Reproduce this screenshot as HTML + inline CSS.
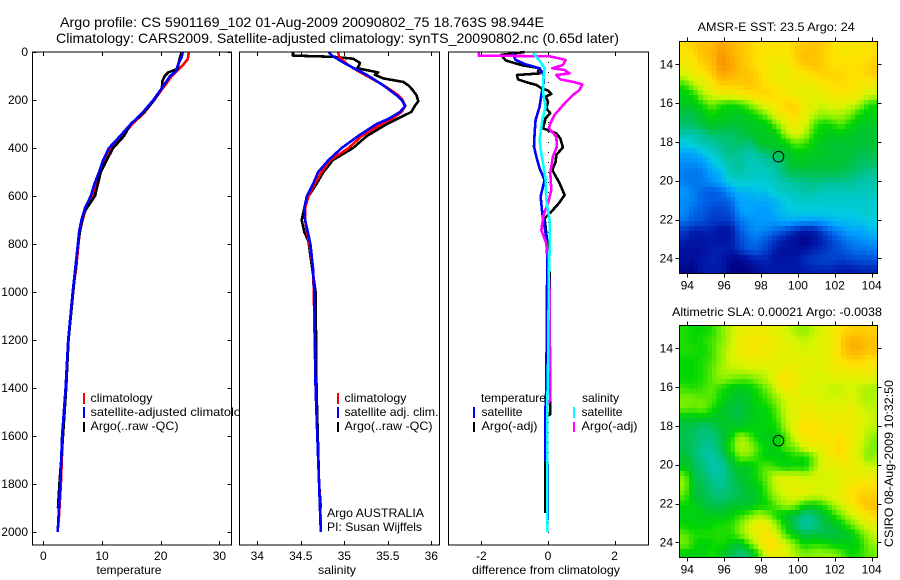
<!DOCTYPE html>
<html lang="en">
<head>
<meta charset="utf-8">
<title>Argo profile</title>
<style>
html,body{margin:0;padding:0;background:#fff;}
svg{display:block;}
text{font-family:"Liberation Sans",sans-serif;font-size:12px;fill:#000;}
.frame{fill:none;stroke:#000;stroke-width:1;shape-rendering:crispEdges;}
.mark{shape-rendering:crispEdges;}
</style>
</head>
<body>
<svg id="chart" xmlns="http://www.w3.org/2000/svg" width="900" height="580" viewBox="0 0 900 580">
<defs>
<clipPath id="clip-map-sst"><rect x="680" y="42" width="197" height="231"/></clipPath>
<clipPath id="clip-map-sla"><rect x="680" y="326" width="197" height="231"/></clipPath>
<clipPath id="clip-legend-temp"><rect x="32" y="52" width="207.5" height="493"/></clipPath>
</defs>
<text x="60" y="27" textLength="484" lengthAdjust="spacingAndGlyphs" style="font-size:14px">Argo profile: CS 5901169_102 01-Aug-2009 20090802_75 18.763S 98.944E</text>
<text x="56" y="43" textLength="563" lengthAdjust="spacingAndGlyphs" style="font-size:14px">Climatology: CARS2009. Satellite-adjusted climatology: synTS_20090802.nc (0.65d later)</text>

<g id="panel-temp"></g>
<g id="panel-sal"></g>
<g id="panel-diff"></g>
<g id="map-sst"></g>
<g id="map-sla"></g>

<text x="129" y="574" text-anchor="middle" textLength="65" lengthAdjust="spacingAndGlyphs">temperature</text>
<text x="337" y="574" text-anchor="middle" textLength="38" lengthAdjust="spacingAndGlyphs">salinity</text>
<text x="546" y="574" text-anchor="middle" textLength="148" lengthAdjust="spacingAndGlyphs">difference from climatology</text>

<g clip-path="url(#clip-legend-temp)">
<rect class="mark" x="83" y="393" width="2" height="11" fill="#f00"/>
<rect class="mark" x="83" y="407" width="2" height="11" fill="#00f"/>
<rect class="mark" x="83" y="422" width="2" height="10" fill="#000"/>
<text x="90.5" y="402" textLength="62" lengthAdjust="spacingAndGlyphs">climatology</text>
<text x="90.5" y="416" textLength="164" lengthAdjust="spacingAndGlyphs">satellite-adjusted climatology</text>
<text x="90.5" y="430" textLength="88" lengthAdjust="spacingAndGlyphs">Argo(..raw -QC)</text>
</g>
<rect class="mark" x="239" y="52" width="1" height="493" fill="#000"/>

<g>
<rect class="mark" x="337" y="393" width="2" height="11" fill="#f00"/>
<rect class="mark" x="337" y="407" width="2" height="11" fill="#00f"/>
<rect class="mark" x="337" y="422" width="2" height="10" fill="#000"/>
<text x="344.5" y="402" textLength="62" lengthAdjust="spacingAndGlyphs">climatology</text>
<text x="344.5" y="416" textLength="94" lengthAdjust="spacingAndGlyphs">satellite adj. clim.</text>
<text x="344.5" y="430" textLength="88" lengthAdjust="spacingAndGlyphs">Argo(..raw -QC)</text>
<text x="327" y="517" textLength="97" lengthAdjust="spacingAndGlyphs">Argo AUSTRALIA</text>
<text x="327" y="531" textLength="95" lengthAdjust="spacingAndGlyphs">PI: Susan Wijffels</text>
</g>

<g>
<text x="481" y="402" textLength="65" lengthAdjust="spacingAndGlyphs">temperature</text>
<rect class="mark" x="473" y="407" width="2" height="11" fill="#00f"/>
<rect class="mark" x="473" y="422" width="2" height="10" fill="#000"/>
<text x="481.5" y="416" textLength="41" lengthAdjust="spacingAndGlyphs">satellite</text>
<text x="481.5" y="430" textLength="56" lengthAdjust="spacingAndGlyphs">Argo(-adj)</text>
<text x="582" y="402" textLength="37" lengthAdjust="spacingAndGlyphs">salinity</text>
<rect class="mark" x="573" y="407" width="2" height="11" fill="#0ff"/>
<rect class="mark" x="573" y="422" width="2" height="10" fill="#f0f"/>
<text x="581.5" y="416" textLength="41" lengthAdjust="spacingAndGlyphs">satellite</text>
<text x="581.5" y="430" textLength="56" lengthAdjust="spacingAndGlyphs">Argo(-adj)</text>
</g>

<text x="697.7" y="31" textLength="157" lengthAdjust="spacingAndGlyphs">AMSR-E SST: 23.5 Argo: 24</text>
<text x="672" y="316" textLength="210" lengthAdjust="spacingAndGlyphs">Altimetric SLA: 0.00021 Argo: -0.0038</text>
<text transform="translate(893,547) rotate(-90)" textLength="167" lengthAdjust="spacingAndGlyphs">CSIRO 08-Aug-2009 10:32:50</text>
</svg>

<script>
// ---- shared tick values ----
const depthTicks = [0, 200, 400, 600, 800, 1000, 1200, 1400, 1600, 1800, 2000];
const tempTicks = [0, 10, 20, 30];
const salTicks = [34, 34.5, 35, 35.5, 36];
const diffTicks = [-2, 0, 2];
const lonTicks = [94, 96, 98, 100, 102, 104];
const latTicks = [14, 16, 18, 20, 22, 24];

// ---- temperature profiles ----
const tempClimDepth = [0, 30, 60, 80, 100, 150, 200, 250, 300, 350, 400, 450, 500, 550, 600, 650, 700, 750, 800, 900, 1000, 1200, 1400, 1600, 1800, 1960];
const tempClim = [24.8, 24.6, 23.6, 22.7, 21.9, 20.4, 18.9, 17.3, 15.2, 13.3, 11.6, 10.7, 9.8, 9.1, 8.5, 7.3, 6.7, 6.2, 6.0, 5.6, 5.0, 4.3, 3.8, 3.3, 3.0, 2.6];
const tempArgoDepth = [0, 20, 40, 70, 85, 100, 120, 150, 200, 250, 300, 350, 400, 450, 500, 550, 600, 640, 670, 700, 800, 900, 1000, 1200, 1400, 1600, 1800, 1900];
const tempArgo = [23.6, 23.3, 23.1, 22.9, 21.3, 20.7, 20.3, 20.2, 18.9, 17.2, 14.9, 13.75, 11.9, 10.8, 9.8, 9.3, 8.8, 7.7, 6.9, 6.6, 5.9, 5.5, 5.1, 4.3, 3.9, 3.35, 2.75, 2.5];
const tempSatDepth = [0, 20, 50, 80, 100, 150, 200, 250, 300, 350, 400, 450, 500, 550, 600, 650, 700, 750, 800, 900, 1000, 1200, 1400, 1600, 1800, 2000];
const tempSat = [23.75, 23.6, 23.0, 22.6, 21.6, 20.2, 18.75, 17.0, 14.9, 13.1, 11.2, 10.2, 9.5, 8.7, 8.1, 7.1, 6.5, 6.1, 5.9, 5.45, 5.0, 4.25, 3.8, 3.2, 2.9, 2.45];

// ---- salinity profiles ----
const salClimDepth = [0, 20, 50, 80, 100, 130, 150, 180, 200, 225, 250, 280, 300, 350, 400, 450, 500, 550, 600, 650, 700, 750, 800, 900, 1000, 1400, 1600, 1800, 1960];
const salClim = [34.93, 34.94, 35.03, 35.16, 35.26, 35.41, 35.5, 35.62, 35.67, 35.7, 35.66, 35.54, 35.43, 35.2, 35.05, 34.84, 34.74, 34.66, 34.59, 34.55, 34.55, 34.57, 34.6, 34.64, 34.65, 34.67, 34.69, 34.71, 34.73];
const salArgoDepth = [0, 15, 20, 28, 45, 55, 68, 75, 85, 95, 110, 125, 140, 160, 180, 205, 225, 250, 280, 300, 350, 400, 450, 500, 550, 600, 650, 700, 750, 790, 850, 1000, 1400, 1800, 1900];
const salArgo = [34.41, 34.41, 34.87, 35.1, 35.18, 35.17, 35.15, 35.25, 35.39, 35.35, 35.45, 35.68, 35.74, 35.79, 35.83, 35.85, 35.81, 35.77, 35.6, 35.49, 35.26, 35.1, 34.87, 34.76, 34.68, 34.59, 34.54, 34.51, 34.54, 34.59, 34.61, 34.67, 34.68, 34.71, 34.73];
const salSatDepth = [0, 15, 40, 60, 80, 100, 130, 150, 180, 200, 225, 250, 280, 300, 350, 400, 450, 500, 550, 600, 650, 700, 750, 800, 900, 1000, 1400, 1600, 1800, 2000];
const salSat = [34.82, 34.86, 34.97, 35.07, 35.18, 35.28, 35.41, 35.49, 35.6, 35.66, 35.7, 35.64, 35.5, 35.37, 35.16, 34.97, 34.82, 34.7, 34.64, 34.57, 34.54, 34.55, 34.58, 34.61, 34.64, 34.655, 34.67, 34.69, 34.71, 34.73];

// ---- differences from climatology ----
const dTempArgoDepth = [0, 12, 36, 54, 68, 82, 89, 96, 114, 128, 137, 151, 161, 175, 186, 207, 235, 255, 276, 318, 339, 360, 397, 429, 457, 492, 547, 596, 630, 669, 693, 783, 922, 1350, 1510, 1520, 1920];
const dTempArgo = [-0.7, -1.41, -1.26, -0.8, -0.25, -0.3, -0.25, -0.93, -0.9, -0.6, -0.35, -0.2, 0, 0.1, -0.07, 0, -0.05, 0.07, -0.07, -0.15, 0.25, 0.37, 0.45, 0.25, 0.23, 0.13, 0.35, 0.5, 0.33, 0.08, -0.1, -0.03, 0.05, 0.06, 0.07, -0.08, -0.08];
const dTempSatDepth = [5, 33, 50, 68, 96, 130, 179, 228, 283, 339, 394, 436, 485, 533, 603, 672, 755, 853, 1000, 1400, 1500, 1700, 1720, 1950];
const dTempSat = [-1.07, -0.97, -0.7, -0.25, -0.13, -0.13, -0.2, -0.25, -0.37, -0.4, -0.42, -0.35, -0.25, -0.1, -0.22, -0.17, -0.07, -0.02, -0.03, -0.05, -0.08, -0.08, -0.01, -0.01];
const dSalSatDepth = [5, 33, 68, 103, 144, 186, 228, 283, 367, 422, 478, 533, 617, 700, 783, 922, 1325, 1462, 2000];
const dSalSat = [-0.45, -0.27, -0.1, -0.13, -0.15, -0.13, -0.07, -0.17, -0.25, -0.2, -0.13, -0.07, -0.05, 0.05, 0.06, 0.03, 0, -0.02, -0.02];
const dSalArgoDepth = [0, 15, 18, 33, 54, 68, 75, 89, 96, 114, 124, 135, 158, 179, 214, 262, 297, 318, 353, 394, 436, 505, 575, 630, 679, 742, 797, 853, 1000, 1450, 1470, 1900];
const dSalArgo = [-2.08, -2.08, 0.05, 0.53, 0.45, 0.13, 0.5, 0.65, 0.25, 0.37, 0.75, 1.03, 0.95, 0.75, 0.5, 0.2, 0.07, 0.03, 0.25, 0.27, 0.15, 0.07, 0.1, 0, -0.13, -0.2, -0.05, 0, 0.05, 0.07, -0.02, -0.02];

// ---- zero reference line samples ----
const zeroValue = [0];

// ---- map grids (colour-index 0..100), rows north to south, 0.5 degree cells ----
const sstGrid = [
[88,90,92,93,96,94,92,90,88,88,88,86,90,91,92,91,88,87,86,87,88,88],
[86,88,92,93,98,95,92,90,88,86,86,86,90,93,92,90,88,86,86,87,88,89],
[84,86,90,92,98,96,93,90,88,86,84,85,88,90,92,91,88,88,88,88,90,90],
[80,84,86,90,95,94,92,92,90,86,84,83,86,86,88,90,90,90,88,88,90,90],
[66,76,82,86,90,90,90,92,90,88,86,84,84,84,84,86,88,88,88,86,84,84],
[62,64,76,80,84,84,86,88,88,90,88,86,84,82,82,84,86,86,86,84,80,78],
[60,60,66,72,66,64,66,72,80,84,86,90,90,84,82,80,82,82,80,76,66,64],
[56,56,60,64,62,60,60,62,66,74,84,86,90,84,78,74,76,76,72,64,62,62],
[54,54,58,60,60,58,58,60,60,62,72,82,84,82,70,64,66,70,64,60,60,60],
[48,48,50,54,54,54,56,58,60,60,62,76,82,78,66,62,60,62,60,58,58,58],
[42,44,48,48,52,52,54,52,58,60,60,62,70,68,62,60,58,58,58,58,58,58],
[36,36,40,44,48,52,50,48,50,54,56,58,62,62,60,60,58,58,58,56,56,56],
[32,32,34,40,44,48,50,46,46,48,50,56,60,60,58,58,58,58,56,54,54,54],
[30,28,30,36,38,48,48,46,46,46,48,54,56,56,56,56,56,56,54,52,50,50],
[30,28,30,32,36,42,44,44,42,44,46,48,50,50,52,50,50,50,50,48,48,48],
[34,30,26,24,26,34,38,38,40,40,44,46,46,48,48,46,46,46,46,46,46,46],
[32,30,26,24,24,26,36,36,36,36,38,42,44,44,44,44,44,44,44,44,44,44],
[32,26,24,20,20,22,34,36,34,34,38,40,42,42,42,42,42,42,42,44,44,44],
[28,24,22,18,18,18,28,32,34,34,34,38,36,36,34,36,38,40,40,40,42,42],
[18,12,14,14,8,10,24,30,32,30,26,22,16,10,12,20,28,32,36,36,38,40],
[14,10,10,12,10,12,20,26,28,22,16,10,8,2,8,14,20,26,30,32,34,34],
[8,8,8,12,14,12,18,24,24,18,12,8,8,10,14,16,20,22,26,28,28,30],
[8,6,12,14,12,4,4,10,14,14,10,10,10,16,18,20,20,18,20,22,22,24],
[4,2,12,12,12,2,0,2,8,12,12,12,12,12,14,14,14,12,12,14,14,14]
];
const slaGrid = [
[66,64,64,66,72,78,82,84,84,84,82,80,76,74,78,82,84,88,90,90,90,90],
[66,64,66,68,72,78,84,86,86,86,84,82,80,78,80,82,84,90,94,94,92,92],
[66,66,64,68,74,80,84,86,86,84,84,82,82,80,80,82,84,90,94,94,92,92],
[64,64,66,68,74,80,82,84,84,84,82,82,82,82,82,82,84,88,90,90,88,88],
[64,64,66,70,76,78,78,80,80,80,82,84,84,82,82,82,84,84,86,86,86,84],
[64,64,66,70,74,72,70,70,74,78,84,88,84,82,80,80,82,82,82,82,82,80],
[68,66,68,70,66,62,60,62,66,72,80,86,84,80,80,80,78,78,80,78,76,76],
[72,72,70,70,64,60,58,60,64,68,74,80,82,82,82,80,80,80,82,78,76,78],
[72,70,72,66,60,58,56,60,62,64,70,80,82,84,84,82,82,82,84,80,78,78],
[60,60,62,60,60,58,56,60,62,62,68,78,82,86,86,84,84,84,84,82,80,78],
[56,56,52,54,58,60,60,62,62,64,64,76,84,88,88,86,84,86,84,82,78,78],
[56,54,52,52,56,62,76,70,62,60,62,68,82,86,86,88,86,88,84,82,76,72],
[56,54,50,50,56,66,78,76,68,62,62,70,72,82,84,84,88,90,84,80,74,70],
[58,54,50,48,52,60,72,72,66,62,62,62,66,64,72,82,84,88,84,80,72,76],
[60,56,52,48,48,56,60,60,66,70,66,62,64,62,72,82,82,84,84,82,80,78],
[72,56,54,50,48,54,58,60,66,72,80,80,80,78,80,80,80,82,84,84,84,84],
[74,58,56,52,50,54,56,60,62,70,80,82,82,82,80,80,80,82,86,88,88,88],
[70,58,56,54,52,54,56,58,60,68,76,80,82,82,80,80,82,84,88,90,90,90],
[64,62,58,56,56,58,58,58,62,64,70,76,74,64,62,66,74,80,84,90,92,92],
[62,62,62,60,60,62,66,70,76,72,64,60,56,52,52,58,64,72,80,84,88,90],
[64,62,62,64,66,66,72,80,84,84,74,62,54,48,50,56,58,62,70,78,82,84],
[70,66,66,66,66,66,72,80,84,88,80,68,60,56,56,56,56,58,60,68,76,80],
[72,66,62,64,66,62,58,70,80,90,86,80,72,64,66,66,62,62,62,64,72,76],
[62,62,62,66,60,56,52,54,66,84,84,82,76,72,74,74,74,70,64,66,70,72]
];

// ---- Argo float position ----
const floatLon = [98.944];
const floatLat = [18.763];

const SVGNS = 'http://www.w3.org/2000/svg';

function add(parent, tag, attrs, name) {
  const el = document.createElementNS(SVGNS, tag);
  for (const k in attrs) el.setAttribute(k, attrs[k]);
  
  
  parent.appendChild(el);
  return el;
}

function label(parent, x, y, str, anchor, name) {
  const el = add(parent, 'text', { x: x, y: y, 'text-anchor': anchor }, name);
  el.textContent = str;
  return el;
}

function linear(d0, d1, r0, r1) {
  return function (v) { return r0 + (v - d0) * (r1 - r0) / (d1 - d0); };
}

const depthY = linear(0, 2000, 52, 532);
const PANEL_TOP = 52, PANEL_BOTTOM = 545;

function drawPanelBase(g, left, right, xScale, xTicks, withDepth, prefix) {
  add(g, 'rect', { x: left, y: PANEL_TOP, width: right - left, height: PANEL_BOTTOM - PANEL_TOP, fill: '#fff' }, prefix + '-background');
  xTicks.forEach(function (t) {
    const x = Math.round(xScale(t)) + 0.5;
    add(g, 'path', { class: 'mark', d: 'M' + x + ' ' + PANEL_BOTTOM + 'v-4M' + x + ' ' + PANEL_TOP + 'v4', stroke: '#000', fill: 'none' }, prefix + '-x-tick');
    label(g, xScale(t), 560, String(t), 'middle', prefix + '-x-tick-label');
  });
  if (withDepth) {
    depthTicks.forEach(function (d) {
      const y = Math.round(depthY(d)) + 0.5;
      add(g, 'path', { class: 'mark', d: 'M' + left + ' ' + y + 'h4M' + right + ' ' + y + 'h-4', stroke: '#000', fill: 'none' }, 'depth-tick');
      label(g, 28, depthY(d) + 4, String(d), 'end', 'depth-tick-label');
    });
  }
}

function drawFrame(g, left, right, prefix) {
  add(g, 'rect', { class: 'frame', x: left, y: PANEL_TOP, width: right - left, height: PANEL_BOTTOM - PANEL_TOP }, prefix + '-frame');
}

function drawProfile(g, depths, values, xScale, color, name) {
  const pts = depths.map(function (d, i) {
    return xScale(values[i]).toFixed(1) + ',' + depthY(d).toFixed(1);
  }).join(' ');
  add(g, 'polyline', { class: 'mark', points: pts, fill: 'none', stroke: color, 'stroke-width': 2.6, 'stroke-linejoin': 'round' }, name);
}

// temperature panel
const tempX = linear(0, 30, 43.3, 219.4);
const gT = document.getElementById('panel-temp');
drawPanelBase(gT, 32.5, 231.5, tempX, tempTicks, true, 'temperature');
drawProfile(gT, tempClimDepth, tempClim, tempX, '#f00', 'temperature-climatology-line');
drawProfile(gT, tempArgoDepth, tempArgo, tempX, '#000', 'temperature-argo-line');
drawProfile(gT, tempSatDepth, tempSat, tempX, '#00f', 'temperature-satellite-line');
drawFrame(gT, 32.5, 231.5, 'temperature');

// salinity panel
const salX = linear(34, 36, 257.3, 431.3);
const gS = document.getElementById('panel-sal');
drawPanelBase(gS, 239.5, 439.5, salX, salTicks, false, 'salinity');
drawProfile(gS, salArgoDepth, salArgo, salX, '#000', 'salinity-argo-line');
drawProfile(gS, salClimDepth, salClim, salX, '#f00', 'salinity-climatology-line');
drawProfile(gS, salSatDepth, salSat, salX, '#00f', 'salinity-satellite-line');
drawFrame(gS, 239.5, 439.5, 'salinity');

// difference panel
const diffX = linear(-2, 2, 481.3, 614.6);
const gD = document.getElementById('panel-diff');
drawPanelBase(gD, 448.5, 648.5, diffX, diffTicks, false, 'difference');
add(gD, 'line', { class: 'mark', x1: Math.round(diffX(zeroValue[0])) + 0.5, x2: Math.round(diffX(zeroValue[0])) + 0.5, y1: PANEL_TOP, y2: PANEL_BOTTOM, stroke: '#000', 'stroke-dasharray': '1 9' }, 'zero-reference-line');
drawProfile(gD, dTempArgoDepth, dTempArgo, diffX, '#000', 'difference-temp-argo-line');
drawProfile(gD, dTempSatDepth, dTempSat, diffX, '#00f', 'difference-temp-satellite-line');
drawProfile(gD, dSalArgoDepth, dSalArgo, diffX, '#f0f', 'difference-sal-argo-line');
drawProfile(gD, dSalSatDepth, dSalSat, diffX, '#0ff', 'difference-sal-satellite-line');
drawFrame(gD, 448.5, 648.5, 'difference');

// colour ramp for the maps
const rampStops = [
  [0, 0, 0, 130], [12, 0, 25, 170], [25, 0, 95, 230], [35, 0, 160, 255],
  [42, 0, 205, 225], [50, 0, 195, 150], [58, 0, 195, 50], [64, 0, 215, 0],
  [72, 120, 240, 0], [80, 215, 245, 0], [88, 255, 225, 0], [95, 255, 170, 0], [100, 240, 130, 0]
];
function rampColor(v) {
  for (let i = 1; i < rampStops.length; i++) {
    const a = rampStops[i - 1], b = rampStops[i];
    if (v <= b[0]) {
      const f = (v - a[0]) / (b[0] - a[0]);
      return 'rgb(' + [1, 2, 3].map(function (c) { return Math.round(a[c] + f * (b[c] - a[c])); }).join(',') + ')';
    }
  }
  return 'rgb(240,130,0)';
}

// sample a grid at fractional (row, col) for display at the source's quarter-degree pixel size
function sampleGrid(grid, r, c) {
  const rows = grid.length, cols = grid[0].length;
  const rr = Math.max(0, Math.min(rows - 1, r)), cc = Math.max(0, Math.min(cols - 1, c));
  const r0 = Math.floor(rr), c0 = Math.floor(cc);
  const r1 = Math.min(rows - 1, r0 + 1), c1 = Math.min(cols - 1, c0 + 1);
  const fr = rr - r0, fc = cc - c0;
  return (grid[r0][c0] * (1 - fc) + grid[r0][c1] * fc) * (1 - fr) + (grid[r1][c0] * (1 - fc) + grid[r1][c1] * fc) * fr;
}

function drawMap(g, grid, clipId, top, bottom, lat14Y, prefix) {
  const left = 679.5, right = 877.5;
  const lonX = linear(94, 104, 687.3, 871.7);
  const latY = linear(14, 24, lat14Y, lat14Y + 194);
  const startLon = 93.59, startLat = 12.835, step = 0.25;
  const cells = add(g, 'g', { 'clip-path': 'url(#' + clipId + ')' }, prefix + '-heatmap');
  const nRows = grid.length * 2, nCols = grid[0].length * 2;
  for (let r = 0; r < nRows; r++) {
    for (let c = 0; c < nCols; c++) {
      const v = sampleGrid(grid, (r - 0.5) / 2, (c - 0.5) / 2);
      const x0 = lonX(startLon + c * step), x1 = lonX(startLon + (c + 1) * step);
      const y0 = latY(startLat + r * step), y1 = latY(startLat + (r + 1) * step);
      add(cells, 'rect', { class: 'mark', x: x0.toFixed(1), y: y0.toFixed(1), width: (x1 - x0 + 0.6).toFixed(1), height: (y1 - y0 + 0.6).toFixed(1), fill: rampColor(v) }, prefix + '-cell');
    }
  }
  add(g, 'rect', { class: 'frame', x: left, y: top, width: right - left, height: bottom - top }, prefix + '-frame');
  lonTicks.forEach(function (t) {
    const x = Math.round(lonX(t)) + 0.5;
    add(g, 'path', { class: 'mark', d: 'M' + x + ' ' + top + 'v-4M' + x + ' ' + bottom + 'v4', stroke: '#000', fill: 'none' }, prefix + '-lon-tick');
    label(g, lonX(t), bottom + 16, String(t), 'middle', prefix + '-lon-tick-label');
  });
  latTicks.forEach(function (t) {
    const y = Math.round(latY(t)) + 0.5;
    add(g, 'path', { class: 'mark', d: 'M' + left + ' ' + y + 'h-4M' + right + ' ' + y + 'h4', stroke: '#000', fill: 'none' }, prefix + '-lat-tick');
    label(g, 673, latY(t) + 4, String(t), 'end', prefix + '-lat-tick-label');
  });
  add(g, 'circle', { cx: lonX(floatLon[0]), cy: latY(floatLat[0]), r: 5.3, fill: 'none', stroke: '#000', 'stroke-width': 1 }, prefix + '-float-position');
}

drawMap(document.getElementById('map-sst'), sstGrid, 'clip-map-sst', 41.5, 273.5, 64.3, 'sst-map');
drawMap(document.getElementById('map-sla'), slaGrid, 'clip-map-sla', 325.5, 557.5, 348.3, 'sla-map');
</script>
</body>
</html>
